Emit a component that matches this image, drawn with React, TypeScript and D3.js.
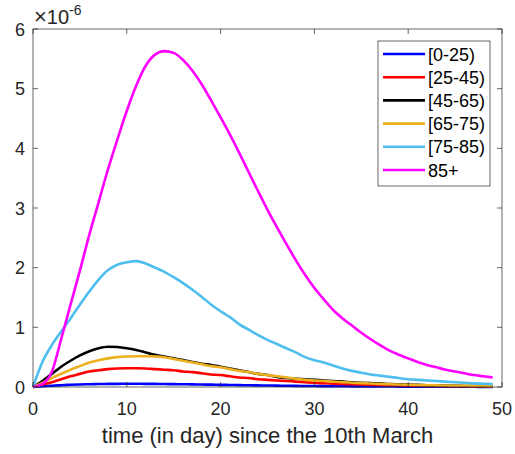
import { useEffect, useRef } from "react";
import * as d3 from "d3";

// ---- data (units of 1e-6), one value per day 0..49 ----
const days = d3.range(0, 50);

const groupLabels = ["[0-25)", "[25-45)", "[45-65)", "[65-75)", "[75-85)", "85+"];
const groupColors = ["#0000FF", "#FF0000", "#000000", "#EDB120", "#4DBEEE", "#FF00FF"];

const age0to25 = [
  0, 0.012, 0.022, 0.03, 0.037, 0.043, 0.047, 0.05, 0.052, 0.053,
  0.054, 0.054, 0.053, 0.052, 0.05, 0.048, 0.046, 0.044, 0.041, 0.039,
  0.036, 0.034, 0.031, 0.029, 0.027, 0.025, 0.023, 0.021, 0.019, 0.017,
  0.016, 0.014, 0.013, 0.012, 0.011, 0.01, 0.009, 0.008, 0.0075, 0.007,
  0.006, 0.0055, 0.005, 0.0045, 0.004, 0.0037, 0.0034, 0.003, 0.0028, 0.0025,
];
const age25to45 = [
  0, 0.04, 0.08, 0.13, 0.18, 0.22, 0.26, 0.28, 0.3, 0.31,
  0.315, 0.315, 0.31, 0.3, 0.29, 0.28, 0.26, 0.25, 0.23, 0.21,
  0.2, 0.18, 0.16, 0.15, 0.13, 0.12, 0.11, 0.1, 0.09, 0.08,
  0.07, 0.063, 0.057, 0.051, 0.046, 0.041, 0.037, 0.033, 0.03, 0.027,
  0.024, 0.021, 0.019, 0.017, 0.015, 0.013, 0.012, 0.011, 0.01, 0.009,
];
const age45to65 = [
  0, 0.1, 0.22, 0.34, 0.44, 0.53, 0.6, 0.65, 0.675, 0.67,
  0.65, 0.62, 0.58, 0.54, 0.51, 0.48, 0.45, 0.42, 0.39, 0.37,
  0.34, 0.31, 0.28, 0.25, 0.22, 0.2, 0.17, 0.15, 0.14, 0.13,
  0.12, 0.11, 0.1, 0.09, 0.08, 0.07, 0.065, 0.06, 0.05, 0.045,
  0.04, 0.035, 0.03, 0.027, 0.024, 0.021, 0.018, 0.016, 0.014, 0.012,
];
const age65to75 = [
  0, 0.07, 0.15, 0.22, 0.29, 0.35, 0.41, 0.45, 0.48, 0.5,
  0.51, 0.515, 0.515, 0.51, 0.5, 0.47, 0.44, 0.41, 0.38, 0.35,
  0.33, 0.3, 0.27, 0.25, 0.22, 0.2, 0.18, 0.16, 0.14, 0.12,
  0.11, 0.1, 0.09, 0.08, 0.072, 0.065, 0.058, 0.052, 0.046, 0.041,
  0.037, 0.033, 0.03, 0.027, 0.024, 0.022, 0.02, 0.018, 0.016, 0.015,
];
const age75to85 = [
  0, 0.42, 0.7, 0.93, 1.15, 1.38, 1.6, 1.8, 1.96, 2.05,
  2.09, 2.11, 2.07, 2.0, 1.93, 1.84, 1.74, 1.63, 1.51, 1.38,
  1.27, 1.17, 1.05, 0.96, 0.87, 0.79, 0.72, 0.65, 0.58, 0.5,
  0.45, 0.41, 0.36, 0.31, 0.27, 0.24, 0.21, 0.19, 0.17, 0.15,
  0.13, 0.12, 0.11, 0.1, 0.09, 0.08, 0.07, 0.06, 0.055, 0.05,
];
const age85plus = [
  0, 0.05, 0.25, 0.8, 1.38, 1.95, 2.55, 3.1, 3.65, 4.15,
  4.63, 5.05, 5.38, 5.57, 5.63, 5.6, 5.48, 5.3, 5.07, 4.8,
  4.52, 4.23, 3.92, 3.6, 3.28, 2.97, 2.68, 2.4, 2.13, 1.88,
  1.66, 1.47, 1.29, 1.15, 1.03, 0.91, 0.8, 0.7, 0.61, 0.54,
  0.48, 0.42, 0.37, 0.33, 0.29, 0.26, 0.23, 0.2, 0.18, 0.16,
];

const seriesValues = [age0to25, age25to45, age45to65, age65to75, age75to85, age85plus];
const xTicks = [0, 10, 20, 30, 40, 50];
const yTicks = [0, 1, 2, 3, 4, 5, 6];

const W = 515;
const H = 454;
const FONT = "'Liberation Sans', Arial, sans-serif";

export default function App() {
  const svgRef = useRef<SVGSVGElement>(null);

  useEffect(() => {
    const svg = d3.select(svgRef.current);
    svg.selectAll("*").remove();

    const left = 33, right = 502, top = 29, bottom = 387;
    const x = d3.scaleLinear().domain([0, 50]).range([left, right]);
    const y = d3.scaleLinear().domain([0, 6]).range([bottom, top]);
    const axisColor = "#262626";

    // curves first, box on top like MATLAB
    const line = d3
      .line<number>()
      .x((_, i) => x(days[i]))
      .y((v) => y(v))
      .curve(d3.curveMonotoneX);

    seriesValues.forEach((vals, k) => {
      svg
        .append("path")
        .attr("d", line(vals))
        .attr("fill", "none")
        .attr("stroke", groupColors[k])
        .attr("stroke-width", 2.6)
        .attr("stroke-linejoin", "round");
    });

    // axes box
    svg
      .append("rect")
      .attr("x", left)
      .attr("y", top)
      .attr("width", right - left)
      .attr("height", bottom - top)
      .attr("fill", "none")
      .attr("stroke", axisColor)
      .attr("stroke-width", 0.7);

    const tickLen = 5;
    const g = svg.append("g").attr("stroke", axisColor).attr("stroke-width", 0.7);
    xTicks.forEach((t) => {
      g.append("line").attr("x1", x(t)).attr("x2", x(t)).attr("y1", bottom).attr("y2", bottom - tickLen);
      g.append("line").attr("x1", x(t)).attr("x2", x(t)).attr("y1", top).attr("y2", top + tickLen);
    });
    yTicks.forEach((t) => {
      g.append("line").attr("x1", left).attr("x2", left + tickLen).attr("y1", y(t)).attr("y2", y(t));
      g.append("line").attr("x1", right).attr("x2", right - tickLen).attr("y1", y(t)).attr("y2", y(t));
    });

    // tick labels
    svg
      .append("g")
      .selectAll("text")
      .data(xTicks)
      .join("text")
      .attr("x", (d) => x(d))
      .attr("y", 415)
      .attr("text-anchor", "middle")
      .attr("font-family", FONT)
      .attr("font-size", 18)
      .attr("fill", axisColor)
      .text((d) => d);

    svg
      .append("g")
      .selectAll("text")
      .data(yTicks)
      .join("text")
      .attr("x", 25)
      .attr("y", (d) => y(d) + 6.5)
      .attr("text-anchor", "end")
      .attr("font-family", FONT)
      .attr("font-size", 18)
      .attr("fill", axisColor)
      .text((d) => d);

    // exponent label
    const exp = svg
      .append("text")
      .attr("x", 34)
      .attr("y", 24)
      .attr("font-family", FONT)
      .attr("font-size", 20)
      .attr("fill", axisColor);
    exp.append("tspan").attr("font-size", 22).text("\u00d7");
    exp.append("tspan").text("10");
    exp.append("tspan").attr("dy", -9).attr("font-size", 14).text("-6");

    // x label
    svg
      .append("text")
      .attr("x", (left + right) / 2)
      .attr("y", 443)
      .attr("text-anchor", "middle")
      .attr("font-family", FONT)
      .attr("font-size", 22)
      .attr("fill", axisColor)
      .text("time (in day) since the 10th March");

    // legend
    const lg = svg.append("g");
    lg.append("rect")
      .attr("x", 378)
      .attr("y", 41)
      .attr("width", 112)
      .attr("height", 145)
      .attr("fill", "#fff")
      .attr("stroke", axisColor)
      .attr("stroke-width", 0.7);
    groupLabels.forEach((label, k) => {
      const yy = 54 + k * 23.2;
      lg.append("line")
        .attr("x1", 383)
        .attr("x2", 425)
        .attr("y1", yy)
        .attr("y2", yy)
        .attr("stroke", groupColors[k])
        .attr("stroke-width", 2.6);
      lg.append("text")
        .attr("x", 428)
        .attr("y", yy + 6.5)
        .attr("font-family", FONT)
        .attr("font-size", 18)
        .attr("fill", "#000")
        .text(label);
    });
  }, []);

  return (
    <svg ref={svgRef} width={W} height={H} style={{ position: "absolute", left: 0, top: 0, background: "#fff" }} />
  );
}
